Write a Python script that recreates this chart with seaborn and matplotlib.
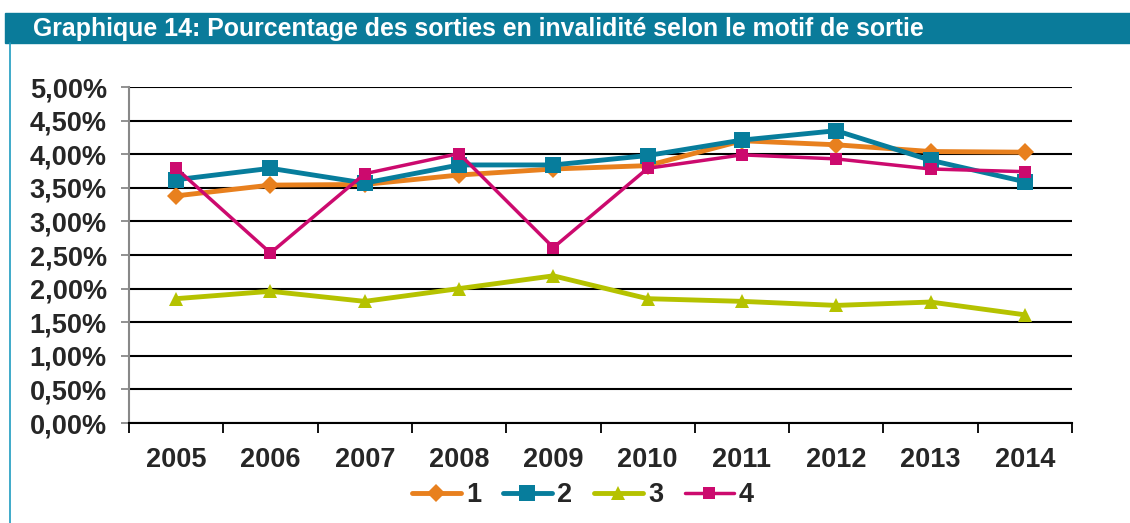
import matplotlib
matplotlib.use("Agg")
import matplotlib.pyplot as plt
import seaborn as sns
import pandas as pd
from matplotlib.patches import Rectangle
from matplotlib.lines import Line2D
from matplotlib.ticker import FixedLocator, FuncFormatter

years = ["2005", "2006", "2007", "2008", "2009", "2010", "2011", "2012", "2013", "2014"]
serie_1 = [3.38, 3.54, 3.55, 3.69, 3.78, 3.83, 4.20, 4.14, 4.04, 4.03]
serie_2 = [3.62, 3.79, 3.57, 3.84, 3.84, 3.98, 4.21, 4.35, 3.91, 3.59]
serie_3 = [1.85, 1.96, 1.81, 2.00, 2.19, 1.85, 1.81, 1.75, 1.80, 1.61]
serie_4 = [3.79, 2.53, 3.71, 4.01, 2.61, 3.79, 3.99, 3.93, 3.78, 3.74]
labels = ["1", "2", "3", "4"]

colors = ["#E8801E", "#077D9C", "#B5C200", "#CC0A6E"]
markers = ["D", "s", "^", "s"]
msizes = [9, 11, 10, 8]
lwidths = [3.5, 3.5, 3.5, 2.5]

sns.set_style("white")
plt.rcParams["font.family"] = ["Liberation Sans", "DejaVu Sans"]

fig = plt.figure(figsize=(11.3, 5.23), dpi=100)

# header band and frame
fig.patches.append(Rectangle((5 / 1130, 1 - 43 / 523), 1 - 5 / 1130, 30 / 523,
                             transform=fig.transFigure, color="#0A7B9A", zorder=0))
fig.lines.append(Line2D([10 / 1130, 10 / 1130], [0, 1 - 43 / 523], transform=fig.transFigure,
                        color="#1E9CC0", lw=1.2))
fig.text(33 / 1130, 1 - 29 / 523, "Graphique 14: Pourcentage des sorties en invalidité selon le motif de sortie",
         color="white", fontsize=17.9, fontweight="bold", va="center", ha="left")

ax = fig.add_axes([129 / 1130, 100 / 523, 943 / 1130, 336 / 523])

x = list(range(len(years)))
for vals, lab, c, m, ms, lw in zip([serie_1, serie_2, serie_3, serie_4], labels, colors, markers, msizes, lwidths):
    df = pd.DataFrame({"x": x, "y": vals})
    sns.lineplot(data=df, x="x", y="y", ax=ax, color=c, marker=m, markersize=ms, linewidth=lw,
                 markeredgewidth=0, label=lab, zorder=3)

ax.set_xlim(-0.5, len(years) - 0.5)
ax.set_ylim(0, 5)
ax.set_yticks([i * 0.5 for i in range(11)])
ax.yaxis.set_major_formatter(FuncFormatter(lambda v, p: f"{v:.2f}%".replace(".", ",")))
ax.yaxis.grid(True, color="black", linewidth=1.5)
ax.set_axisbelow(True)

ax.xaxis.set_major_locator(FixedLocator([i - 0.5 for i in range(len(years) + 1)]))
ax.xaxis.set_major_formatter(FuncFormatter(lambda v, p: ""))
ax.xaxis.set_minor_locator(FixedLocator(x))
ax.set_xticks(x, minor=True)
ax.set_xticklabels(years, minor=True)
ax.tick_params(axis="x", which="major", direction="out", length=7, width=1.3, color="black", bottom=True)
ax.tick_params(axis="x", which="minor", length=0, pad=17, labelsize=19.5)
ax.tick_params(axis="y", direction="out", length=6, width=1.3, color="#888888", left=True, labelsize=19.5, pad=10)
for lab in ax.get_xticklabels(minor=True) + ax.get_yticklabels():
    lab.set_fontweight("bold")

ax.set_xlabel("")
ax.set_ylabel("")
for s in ["top", "right"]:
    ax.spines[s].set_visible(False)
ax.spines["left"].set_color("#888888")
ax.spines["left"].set_linewidth(1.5)
ax.spines["bottom"].set_color("black")
ax.spines["bottom"].set_linewidth(1.5)

ax.legend(loc="center", bbox_to_anchor=(583 / 1130, 28 / 523), bbox_transform=fig.transFigure,
          ncol=4, frameon=False, prop={"weight": "bold", "size": 19.5},
          handlelength=1.8, handletextpad=0.2, columnspacing=0.8, borderpad=0)

fig.savefig("out.png", dpi=100)
